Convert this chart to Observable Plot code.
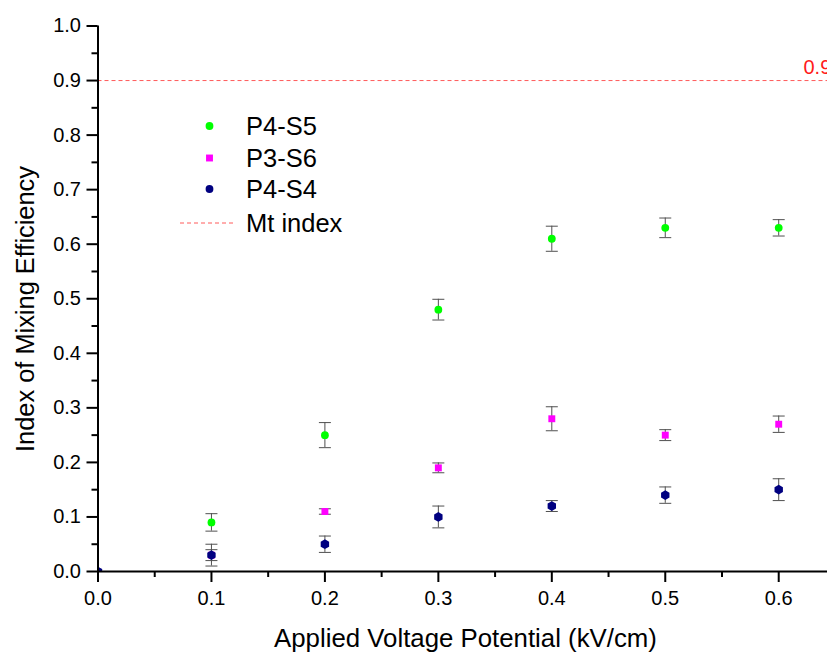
<!DOCTYPE html>
<html>
<head>
<meta charset="utf-8">
<script src="https://cdn.jsdelivr.net/npm/d3@7"></script>
<script src="https://cdn.jsdelivr.net/npm/@observablehq/plot@0.6"></script>
<style>
  html, body { margin: 0; padding: 0; background: white; overflow: hidden; }
  #chart { width: 827px; height: 653px; overflow: hidden; }
</style>
</head>
<body>
<div id="chart"></div>
<script>
// ---- data ----
const voltage = [0.1, 0.2, 0.3, 0.4, 0.5, 0.6];
const p4s5 = [0.09, 0.25, 0.48, 0.61, 0.63, 0.63];
const p4s5Err = [0.016, 0.023, 0.019, 0.023, 0.018, 0.015];
const p3s6 = [0.03, 0.11, 0.19, 0.28, 0.25, 0.27];
const p3s6Err = [0.01, 0.005, 0.009, 0.022, 0.01, 0.015];
const voltageS4 = [0.0, 0.1, 0.2, 0.3, 0.4, 0.5, 0.6];
const p4s4 = [0.0, 0.03, 0.05, 0.10, 0.12, 0.14, 0.15];
const p4s4Err = [0.0, 0.02, 0.015, 0.02, 0.01, 0.015, 0.02];
const mtIndex = [0.9];
const seriesNames = ["P4-S5", "P3-S6", "P4-S4", "Mt index"];
const xTicks = [0.0, 0.1, 0.2, 0.3, 0.4, 0.5, 0.6];
const xMinorTicks = [0.05, 0.15, 0.25, 0.35, 0.45, 0.55];
const yTicks = [0.0, 0.1, 0.2, 0.3, 0.4, 0.5, 0.6, 0.7, 0.8, 0.9, 1.0];
const yMinorTicks = [0.05, 0.15, 0.25, 0.35, 0.45, 0.55, 0.65, 0.75, 0.85, 0.95];
const xDomain = [0, 0.643];
const yDomain = [0, 1];
const xTitle = "Applied Voltage Potential (kV/cm)";
const yTitle = "Index of Mixing Efficiency";

// ---- styles ----
const colors = {"P4-S5": "#00ff00", "P3-S6": "#ff00ff", "P4-S4": "#000080", "Mt index": "#ff5a5a"};
const symbols = {"P4-S5": "circle", "P3-S6": "square", "P4-S4": "hexagon"};
const FONT = "'Liberation Sans', Arial, Helvetica, sans-serif";

const rows = [];
voltage.forEach((v, i) => rows.push({series: "P3-S6", x: v, y: p3s6[i], e: p3s6Err[i]}));
voltage.forEach((v, i) => rows.push({series: "P4-S5", x: v, y: p4s5[i], e: p4s5Err[i]}));
voltageS4.forEach((v, i) => rows.push({series: "P4-S4", x: v, y: p4s4[i], e: p4s4Err[i]}));
const errRows = rows.filter(d => d.e > 0);

const cap = {
  draw(ctx, size) {
    const r = Math.sqrt(size / Math.PI);
    ctx.moveTo(-r, 0);
    ctx.lineTo(r, 0);
  }
};

const errColor = "#505050";
const order = ["P3-S6", "P4-S5", "P4-S4"];

const plot = Plot.plot({
  width: 827,
  height: 653,
  marginLeft: 97.5,
  marginRight: 0,
  marginTop: 25.5,
  marginBottom: 82,
  x: {domain: xDomain},
  y: {domain: yDomain},
  style: {fontFamily: FONT, fontSize: "20px", background: "white", overflow: "hidden", color: "black"},
  marks: [
    Plot.ruleY(mtIndex, {y: d => d, stroke: colors["Mt index"], strokeWidth: 1, strokeDasharray: "4,3"}),
    Plot.text(mtIndex, {y: d => d, text: d => d3.format(".1f")(d), frameAnchor: "right", textAnchor: "start",
      dx: -24, dy: -13, fill: "#ff1a1a", fontSize: 20}),
    Plot.ruleX(errRows, {x: "x", y1: d => d.y - d.e, y2: d => d.y + d.e, stroke: errColor, strokeWidth: 1}),
    Plot.dot(errRows, {x: "x", y: d => d.y - d.e, symbol: cap, r: 6, stroke: errColor, strokeWidth: 1, fill: "none"}),
    Plot.dot(errRows, {x: "x", y: d => d.y + d.e, symbol: cap, r: 6, stroke: errColor, strokeWidth: 1, fill: "none"}),
    ...order.map(s => Plot.dot(rows.filter(d => d.series === s), {
      x: "x", y: "y", symbol: symbols[s], fill: colors[s], r: s === "P4-S4" ? 4.2 : 3.9, clip: true
    })),
    Plot.axisY({ticks: yMinorTicks, tickSize: 6, tickFormat: () => "", strokeWidth: 2, label: null}),
    Plot.axisY({ticks: yTicks, tickSize: 11, tickPadding: 6, tickFormat: d3.format(".1f"), strokeWidth: 2, fontSize: 20, label: null}),
    Plot.axisX({ticks: xMinorTicks, tickSize: 6, tickFormat: () => "", strokeWidth: 2, label: null}),
    Plot.axisX({ticks: xTicks, tickSize: 11, tickPadding: 8, tickFormat: d3.format(".1f"), strokeWidth: 2, fontSize: 20, label: null}),
    Plot.ruleX([0], {x: d => d, y1: 0, y2: 1, stroke: "black", strokeWidth: 2}),
    Plot.ruleY([0], {y: d => d, stroke: "black", strokeWidth: 2})
  ]
});

document.getElementById("chart").appendChild(plot);

// ---- axis titles and in-plot legend ----
const svg = d3.select(plot);
svg.append("text")
  .attr("x", 465.5).attr("y", 647)
  .attr("text-anchor", "middle")
  .attr("font-family", FONT).attr("font-size", 25.8).attr("fill", "black")
  .text(xTitle);
svg.append("text")
  .attr("transform", "translate(34,309) rotate(-90)")
  .attr("text-anchor", "middle")
  .attr("font-family", FONT).attr("font-size", 25.4).attr("fill", "black")
  .text(yTitle);

const lg = svg.append("g").attr("font-family", FONT).attr("font-size", 25.5).attr("text-anchor", "start");
const legendY = [126, 158, 189, 223];
seriesNames.forEach((s, i) => {
  const y = legendY[i];
  if (i < 3) {
    const sym = {circle: d3.symbolCircle, square: d3.symbolSquare, hexagon: d3.symbolCircle}[symbols[s]];
    lg.append("path")
      .attr("transform", `translate(209.5,${y})`)
      .attr("d", d3.symbol(sym, Math.PI * 3.9 * 3.9)())
      .attr("fill", colors[s]);
  } else {
    lg.append("line").attr("x1", 180).attr("x2", 236).attr("y1", y).attr("y2", y)
      .attr("stroke", colors[s]).attr("stroke-width", 1).attr("stroke-dasharray", "4,3");
  }
  lg.append("text").attr("x", 246).attr("y", y).attr("dy", "0.36em")
    .attr("text-anchor", "start").attr("fill", "black").text(s);
});
</script>
</body>
</html>
